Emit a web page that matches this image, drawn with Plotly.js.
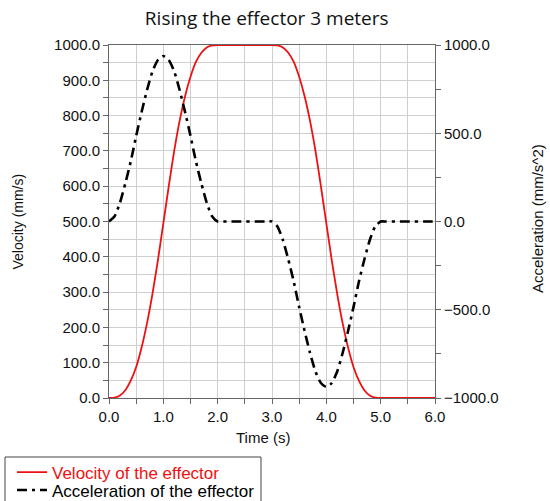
<!DOCTYPE html>
<html>
<head>
<meta charset="utf-8">
<script src="https://cdn.plot.ly/plotly-3.0.1.min.js"></script>
<style>html,body{margin:0;padding:0;background:#fff;}#chart{width:550px;height:501px;}</style>
</head>
<body>
<div id="chart"></div>
<script>
// Time (s)
const time = [
  0.0,0.1,0.2,0.3,0.4,0.5,0.6,0.7,0.8,0.9,1.0,1.1,1.2,1.3,1.4,1.5,1.6,1.7,1.8,1.9,2.0,
  2.1,2.2,2.3,2.4,2.5,2.6,2.7,2.8,2.9,3.0,3.1,3.2,3.3,3.4,3.5,3.6,3.7,3.8,3.9,4.0,
  4.1,4.2,4.3,4.4,4.5,4.6,4.7,4.8,4.9,5.0,5.1,5.2,5.3,5.4,5.5,5.6,5.7,5.8,5.9,6.0
];
// Velocity of the effector (mm/s)
const velocity = [
  0,1,7,22,49,88,143,212,295,390,495,600,700,785,855,910,952,978,993,999,1000,
  1000,1000,1000,1000,1000,1000,1000,1000,1000,1000,999,993,978,952,910,855,785,700,600,495,
  390,295,212,143,88,49,22,7,1,0,0,0,0,0,0,0,0,0,0,0
];
// Acceleration of the effector (mm/s^2)
const acceleration = [
  0,28,105,215,340,485,620,745,850,915,938,915,850,745,620,485,340,215,105,28,0,
  0,0,0,0,0,0,0,0,0,0,-28,-105,-215,-340,-485,-620,-745,-850,-915,-938,
  -915,-850,-745,-620,-485,-340,-215,-105,-28,0,0,0,0,0,0,0,0,0,0,0
];
const xTicks = [0, 1, 2, 3, 4, 5, 6];
const yTicks = [0, 100, 200, 300, 400, 500, 600, 700, 800, 900, 1000];
const y2Ticks = [-1000, -500, 0, 500, 1000];
const chartTitle = "Rising the effector 3 meters";
const xTitle = "Time (s)";
const yTitle = "Velocity (mm/s)";
const y2Title = "Acceleration (mm/s^2)";
const velName = "Velocity of the effector";
const accName = "Acceleration of the effector";

const sans = "Liberation Sans, Arial, sans-serif";
const axisFont = {family: sans, size: 14, color: "#111"};

const traces = [
  {x: time, y: velocity, type: "scatter", mode: "lines", name: '<span style="color:#ee1111">' + velName + '</span>',
   line: {color: "#ee1111", width: 1.8, shape: "spline", smoothing: 0.6}, yaxis: "y", legend: "legend"},
  {x: time, y: acceleration, type: "scatter", mode: "lines", name: accName,
   line: {color: "#000000", width: 2.6, dash: "10px,5px,3px,5px", shape: "spline", smoothing: 0.6}, yaxis: "y2", legend: "legend2"}
];

const legendCommon = {xref: "container", yref: "container", xanchor: "left", yanchor: "top",
  borderwidth: 0, bgcolor: "rgba(0,0,0,0)", itemwidth: 30,
  font: {family: sans, size: 17, color: "#000"}};

const layout = {
  width: 550, height: 501,
  margin: {l: 109, r: 115, t: 45, b: 103, autoexpand: false},
  paper_bgcolor: "#ffffff", plot_bgcolor: "#ffffff",
  font: axisFont,
  title: {text: chartTitle, x: 0.485, xanchor: "center", y: 0.964, yanchor: "middle",
          font: {family: "Open Sans, Noto Sans, sans-serif", size: 19, color: "#111"}},
  showlegend: true,
  legend: Object.assign({}, legendCommon, {x: 12/550, y: 1 - 454.5/501}),
  legend2: Object.assign({}, legendCommon, {x: 12/550, y: 1 - 472.5/501}),
  shapes: [
    {type: "rect", xref: "paper", yref: "paper", x0: (5-109)/326, x1: (261-109)/326,
     y0: (398-457)/353, y1: (398-515)/353, line: {color: "#444", width: 1}, fillcolor: "rgba(0,0,0,0)", layer: "below"}
  ],
  annotations: [
    {text: yTitle, xref: "paper", yref: "paper", x: (17-109)/326, y: 0.5, textangle: -90,
     showarrow: false, xanchor: "center", yanchor: "middle", font: {family: sans, size: 14, color: "#111"}},
    {text: y2Title, xref: "paper", yref: "paper", x: (537-109)/326, y: (398-219)/353, textangle: -90,
     showarrow: false, xanchor: "center", yanchor: "middle", font: {family: sans, size: 15, color: "#111"}},
    {text: xTitle, xref: "paper", yref: "paper", x: (263-109)/326, y: (398-437)/353,
     showarrow: false, xanchor: "center", yanchor: "middle", font: {family: sans, size: 15, color: "#111"}}
  ],
  xaxis: {
    range: [0, 6], tickvals: xTicks, tickformat: ".1f", automargin: false,
    ticks: "outside", ticklen: 5, tickcolor: "#666", tickfont: {size: 15},
    showline: true, linecolor: "#666", linewidth: 1, mirror: true,
    showgrid: true, gridcolor: "#cfcfcf", gridwidth: 1, zeroline: false,
    minor: {dtick: 0.5, tick0: 0, ticks: "outside", ticklen: 5, tickcolor: "#666", showgrid: true, gridcolor: "#cfcfcf"}
  },
  yaxis: {
    range: [0, 1000], tickvals: yTicks, tickformat: ".1f", automargin: false,
    ticks: "outside", ticklen: 5, tickcolor: "#666", tickfont: {size: 15},
    showline: true, linecolor: "#666", linewidth: 1,
    showgrid: true, gridcolor: "#cfcfcf", gridwidth: 1, zeroline: false,
    minor: {dtick: 50, tick0: 0, ticks: "outside", ticklen: 5, tickcolor: "#666", showgrid: true, gridcolor: "#cfcfcf"}
  },
  yaxis2: {
    overlaying: "y", side: "right", automargin: false,
    range: [-1000, 1000], tickvals: y2Ticks, tickformat: ".1f",
    ticks: "outside", ticklen: 5, tickcolor: "#666", tickfont: {size: 15},
    showline: true, linecolor: "#666", linewidth: 1,
    showgrid: false, zeroline: false,
    minor: {dtick: 250, tick0: 0, ticks: "outside", ticklen: 5, tickcolor: "#666", showgrid: false}
  }
};

Plotly.newPlot("chart", traces, layout, {displayModeBar: false, staticPlot: true});
</script>
</body>
</html>
